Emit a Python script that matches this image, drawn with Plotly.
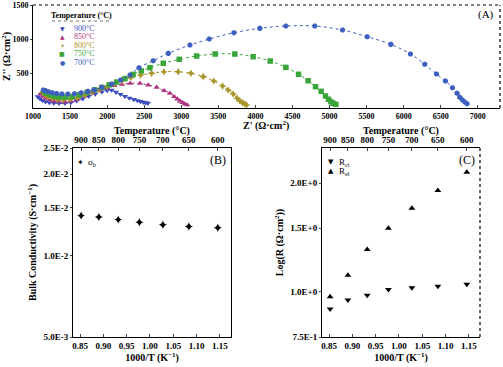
import plotly.graph_objects as go

W, H = 503, 367

# ---------------- Panel A : Nyquist data (Ohm.cm2) ----------------
zre_900 = [1065, 1095, 1130, 1170, 1220, 1280, 1350, 1430, 1510, 1590, 1670, 1750, 1840, 1930, 2000, 2060,
           2120, 2180, 2240, 2300, 2360, 2410, 2450, 2490, 2520, 2550]
zim_900 = [165, 135, 110, 92, 80, 72, 68, 70, 80, 105, 135, 170, 205, 235, 255, 262,
           230, 200, 170, 145, 125, 108, 95, 85, 77, 70]

zre_850 = [1100, 1130, 1170, 1220, 1280, 1350, 1430, 1510, 1600, 1700, 1800, 1900, 2000, 2100, 2200, 2310,
           2443, 2555, 2668, 2770, 2847, 2905, 2946, 2982, 3018, 3049, 3080]
zim_850 = [205, 172, 145, 120, 102, 92, 90, 100, 130, 175, 220, 260, 295, 325, 345, 358,
           360, 335, 301, 252, 214, 164, 131, 102, 77, 58, 44]

zre_800 = [1130, 1160, 1200, 1260, 1330, 1410, 1500, 1600, 1700, 1800, 1900, 2000, 2100, 2200, 2320,
           2452, 2600, 2766, 2959, 3130, 3296, 3440, 3558, 3633, 3701, 3755, 3791, 3827, 3858, 3881]
zim_800 = [228, 195, 165, 140, 125, 120, 125, 150, 190, 232, 272, 310, 352, 398, 445,
           480, 505, 528, 528, 505, 456, 393, 320, 262, 204, 141, 102, 77, 58, 44]

zre_750 = [1150, 1180, 1230, 1290, 1360, 1440, 1530, 1630, 1730, 1830, 1930, 2030, 2130, 2240, 2350, 2460,
           2577, 2757, 2973, 3207, 3458, 3723, 3970, 4200, 4411, 4582, 4712, 4812, 4887, 4946, 4987,
           5018, 5049, 5085]
zim_750 = [245, 215, 190, 172, 160, 158, 165, 192, 228, 265, 300, 338, 378, 428, 488, 540,
           587, 651, 709, 757, 786, 786, 747, 684, 592, 491, 397, 310, 243, 175, 127,
           92, 68, 54]

zre_700 = [1140, 1170, 1210, 1260, 1320, 1390, 1470, 1560, 1650, 1740, 1822, 1926, 2061, 2182, 2308,
           2429, 2622, 2825, 3117, 3377, 3710, 4060, 4411, 4802, 5176, 5508, 5827, 6092, 6285, 6443,
           6564, 6659, 6721, 6757, 6793, 6824, 6855]
zim_700 = [262, 250, 236, 222, 212, 205, 203, 208, 222, 242, 262, 301, 349, 408, 480,
           586, 688, 796, 917, 1004, 1096, 1160, 1194, 1194, 1135, 1038, 927, 786, 636, 495,
           393, 295, 214, 156, 116, 87, 63]

series_labels = ["900°C", "850°C", "800°C", "750°C", "700°C"]
series_colors = ["#3b4cc0", "#b0337f", "#a8962a", "#3aa53a", "#3d5fc0"]
series_symbols = ["triangle-down", "triangle-up", "star-diamond", "square", "octagon"]
legend_glyphs = ["▼", "▲", "✦", "■", "●"]

# ---------------- Panels B and C ----------------
temps_c = [900, 850, 800, 750, 700, 650, 600]
inv_T = [0.8524, 0.8904, 0.9319, 0.9773, 1.0276, 1.0833, 1.1453]   # 1000/T (K^-1)
sigma_b = [0.01406, 0.01390, 0.01359, 0.01328, 0.01301, 0.01282, 0.01268]
r_ct = [0.897, 0.949, 0.979, 1.015, 1.026, 1.037, 1.050]
r_el = [0.969, 1.111, 1.309, 1.500, 1.702, 1.907, 2.141]

b_ticks = [0.025, 0.02, 0.015, 0.01, 0.005]
b_ticktext = ["2.5E-2", "2.0E-2", "1.5E-2", "1.0E-2", "5.0E-3"]
c_ticks = [0.75, 1.0, 1.5, 2.0]
c_ticktext = ["7.5E-1", "1.0E+0", "1.5E+0", "2.0E+0"]
x_ticks = [0.85, 0.90, 0.95, 1.00, 1.05, 1.10, 1.15]
x_ticktext = ["0.85", "0.90", "0.95", "1.00", "1.05", "1.10", "1.15"]

FONT = "Liberation Serif, Times New Roman, serif"


def px(x):
    return x / W


def py(y):
    return 1 - y / H


fig = go.Figure()

nyq = [(zre_900, zim_900), (zre_850, zim_850), (zre_800, zim_800), (zre_750, zim_750), (zre_700, zim_700)]
for (xs, ys), lab, col, sym in zip(nyq, series_labels, series_colors, series_symbols):
    fig.add_trace(go.Scatter(
        x=xs, y=ys, mode="lines+markers", name=lab, showlegend=False,
        line=dict(color=col, width=1, dash="dot", shape="spline"),
        marker=dict(symbol=sym, size=5.5, color=col, line=dict(width=0)),
        xaxis="x", yaxis="y"))

# Panel B
fig.add_trace(go.Scatter(x=inv_T, y=sigma_b, mode="markers", showlegend=False,
                         marker=dict(symbol="star-diamond", size=6, color="black"),
                         xaxis="x2", yaxis="y2"))
fig.add_trace(go.Scatter(x=inv_T, y=sigma_b, mode="markers", showlegend=False, hoverinfo="skip",
                         marker=dict(size=1, opacity=0), xaxis="x3", yaxis="y2"))
# Panel C
fig.add_trace(go.Scatter(x=inv_T, y=r_ct, mode="markers", showlegend=False,
                         marker=dict(symbol="triangle-down", size=6, color="black"),
                         xaxis="x4", yaxis="y4"))
fig.add_trace(go.Scatter(x=inv_T, y=r_el, mode="markers", showlegend=False,
                         marker=dict(symbol="triangle-up", size=6, color="black"),
                         xaxis="x4", yaxis="y4"))
fig.add_trace(go.Scatter(x=inv_T, y=r_el, mode="markers", showlegend=False, hoverinfo="skip",
                         marker=dict(size=1, opacity=0), xaxis="x5", yaxis="y4"))

tickf = dict(family=FONT, size=9, color="black", weight="bold")
tickfA = dict(family=FONT, size=8, color="black", weight="bold")
titf = dict(family=FONT, size=10, color="black", weight="bold")

axA_x = dict(domain=[px(33), px(500)], range=[1000, 7300], anchor="y", automargin=False,
             tickvals=[1000, 1500, 2000, 2500, 3000, 3500, 4000, 4500, 5000, 5500, 6000, 6500, 7000],
             ticks="inside", ticklen=3, showgrid=False, zeroline=False, showline=True,
             linecolor="black", linewidth=1, tickfont=tickfA)
axA_y = dict(domain=[py(108), py(5)], range=[0, 1500], anchor="x", automargin=False,
             tickvals=[500, 1000, 1500], ticks="outside", ticklen=2,
             showgrid=False, zeroline=False, showline=True, linecolor="black", linewidth=1,
             tickfont=tickfA, title=dict(text="Z'' (Ω·cm<sup>2</sup>)", font=titf, standoff=3))

xr = [0.835, 1.1736]
bot_common = dict(range=xr, tickvals=x_ticks, ticktext=x_ticktext, ticks="inside", ticklen=3,
                  automargin=False,
                  showgrid=False, zeroline=False, showline=True, linecolor="black", linewidth=1,
                  tickfont=tickf, title=dict(text="1000/T (K<sup>−1</sup>)", font=titf, standoff=2))
top_common = dict(range=xr, tickvals=inv_T, ticktext=[str(t) for t in temps_c], ticks="inside",
                  ticklen=3, side="top", showgrid=False, zeroline=False, showline=True,
                  automargin=False,
                  linecolor="black", linewidth=1, tickfont=tickf)

fig.update_layout(
    width=W, height=H, margin=dict(l=0, r=0, t=0, b=0, autoexpand=False),
    paper_bgcolor="white", plot_bgcolor="white",
    font=dict(family=FONT, color="black"),
    xaxis=axA_x, yaxis=axA_y,
    xaxis2=dict(domain=[px(73), px(231)], anchor="y2", **bot_common),
    xaxis3=dict(overlaying="x2", anchor="y2", **top_common),
    yaxis2=dict(domain=[py(337), py(148)], anchor="x2", type="log", automargin=False,
                range=[-2.30103, -1.60206], tickvals=b_ticks, ticktext=b_ticktext,
                ticks="outside", ticklen=2, showgrid=False, zeroline=False, showline=True,
                mirror=True, linecolor="black", linewidth=1, tickfont=tickf,
                title=dict(text="Bulk Conductivity (S·cm<sup>−1</sup>)", font=titf, standoff=4)),
    xaxis4=dict(domain=[px(322), px(480)], anchor="y4", **bot_common),
    xaxis5=dict(overlaying="x4", anchor="y4", **top_common),
    yaxis4=dict(domain=[py(337), py(148)], anchor="x4", type="log", automargin=False,
                range=[-0.1249, 0.3979], tickvals=c_ticks, ticktext=c_ticktext,
                ticks="outside", ticklen=2, showgrid=False, zeroline=False, showline=True,
                linecolor="black", linewidth=1, tickfont=tickf,
                title=dict(text="Log(R (Ω·cm<sup>2</sup>))", font=titf, standoff=4)),
)

# dotted frame edges
shapes = [
    dict(type="line", xref="x domain", yref="y domain", x0=0, x1=1, y0=1, y1=1,
         line=dict(color="black", width=1.2, dash="dot")),
    dict(type="line", xref="x domain", yref="y domain", x0=1, x1=1, y0=0, y1=1,
         line=dict(color="black", width=1.2, dash="dot")),
    dict(type="line", xref="x4 domain", yref="y4 domain", x0=1, x1=1, y0=0, y1=1,
         line=dict(color="black", width=1.2, dash="dot")),
    # legend title underline in A
    dict(type="line", xref="paper", yref="paper", x0=px(52), x1=px(111), y0=py(21), y1=py(21),
         line=dict(color="#777", width=1, dash="dot")),
]
fig.update_layout(shapes=shapes)

ann = []
ann.append(dict(text="Z' (Ω·cm<sup>2</sup>)", x=px(266), y=py(125), xref="paper", yref="paper",
                xanchor="center", yanchor="middle", showarrow=False, font=titf))
for cx in (152, 401):
    ann.append(dict(text="Temperature (°C)", x=px(cx), y=py(131), xref="paper", yref="paper",
                    xanchor="center", yanchor="middle", showarrow=False, font=titf))
ann.append(dict(text="(A)", x=px(496), y=py(14), xref="paper", yref="paper", xanchor="right",
                yanchor="middle", showarrow=False, font=dict(family=FONT, size=11, color="black")))
ann.append(dict(text="(B)", x=px(228), y=py(160), xref="paper", yref="paper", xanchor="right",
                yanchor="middle", showarrow=False, font=dict(family=FONT, size=12, color="black")))
ann.append(dict(text="(C)", x=px(477), y=py(160), xref="paper", yref="paper", xanchor="right",
                yanchor="middle", showarrow=False, font=dict(family=FONT, size=12, color="black")))
ann.append(dict(text="Temperature (°C)", x=px(81), y=py(15), xref="paper", yref="paper",
                xanchor="center", yanchor="middle", showarrow=False,
                font=dict(family=FONT, size=8, color="black", weight="bold")))
leg_y = [28, 36.5, 45, 53.5, 62]
for lab, col, g, yy in zip(series_labels, series_colors, legend_glyphs, leg_y):
    ann.append(dict(text=g, x=px(62), y=py(yy), xref="paper", yref="paper", xanchor="center",
                    yanchor="middle", showarrow=False, font=dict(family="DejaVu Sans", size=6, color=col)))
    ann.append(dict(text=lab, x=px(72), y=py(yy), xref="paper", yref="paper", xanchor="left",
                    yanchor="middle", showarrow=False, font=dict(family=FONT, size=8, color=col)))
# legend B
ann.append(dict(text="✦", x=px(80), y=py(162), xref="paper", yref="paper", xanchor="center",
                yanchor="middle", showarrow=False, font=dict(family="DejaVu Sans", size=8, color="black")))
ann.append(dict(text="σ<sub>b</sub>", x=px(86), y=py(162), xref="paper", yref="paper", xanchor="left",
                yanchor="middle", showarrow=False, font=dict(family=FONT, size=9, color="black")))
# legend C
for g, lab, yy in [("▼", "R<sub>ct</sub>", 162), ("▲", "R<sub>el</sub>", 171)]:
    ann.append(dict(text=g, x=px(331), y=py(yy), xref="paper", yref="paper", xanchor="center",
                    yanchor="middle", showarrow=False, font=dict(family="DejaVu Sans", size=7, color="black")))
    ann.append(dict(text=lab, x=px(337), y=py(yy), xref="paper", yref="paper", xanchor="left",
                    yanchor="middle", showarrow=False, font=dict(family=FONT, size=9, color="black")))
fig.update_layout(annotations=ann)

fig.write_html("out.html", config={"displayModeBar": False},
               post_script="document.body.style.margin='0';document.body.style.overflow='hidden';")
